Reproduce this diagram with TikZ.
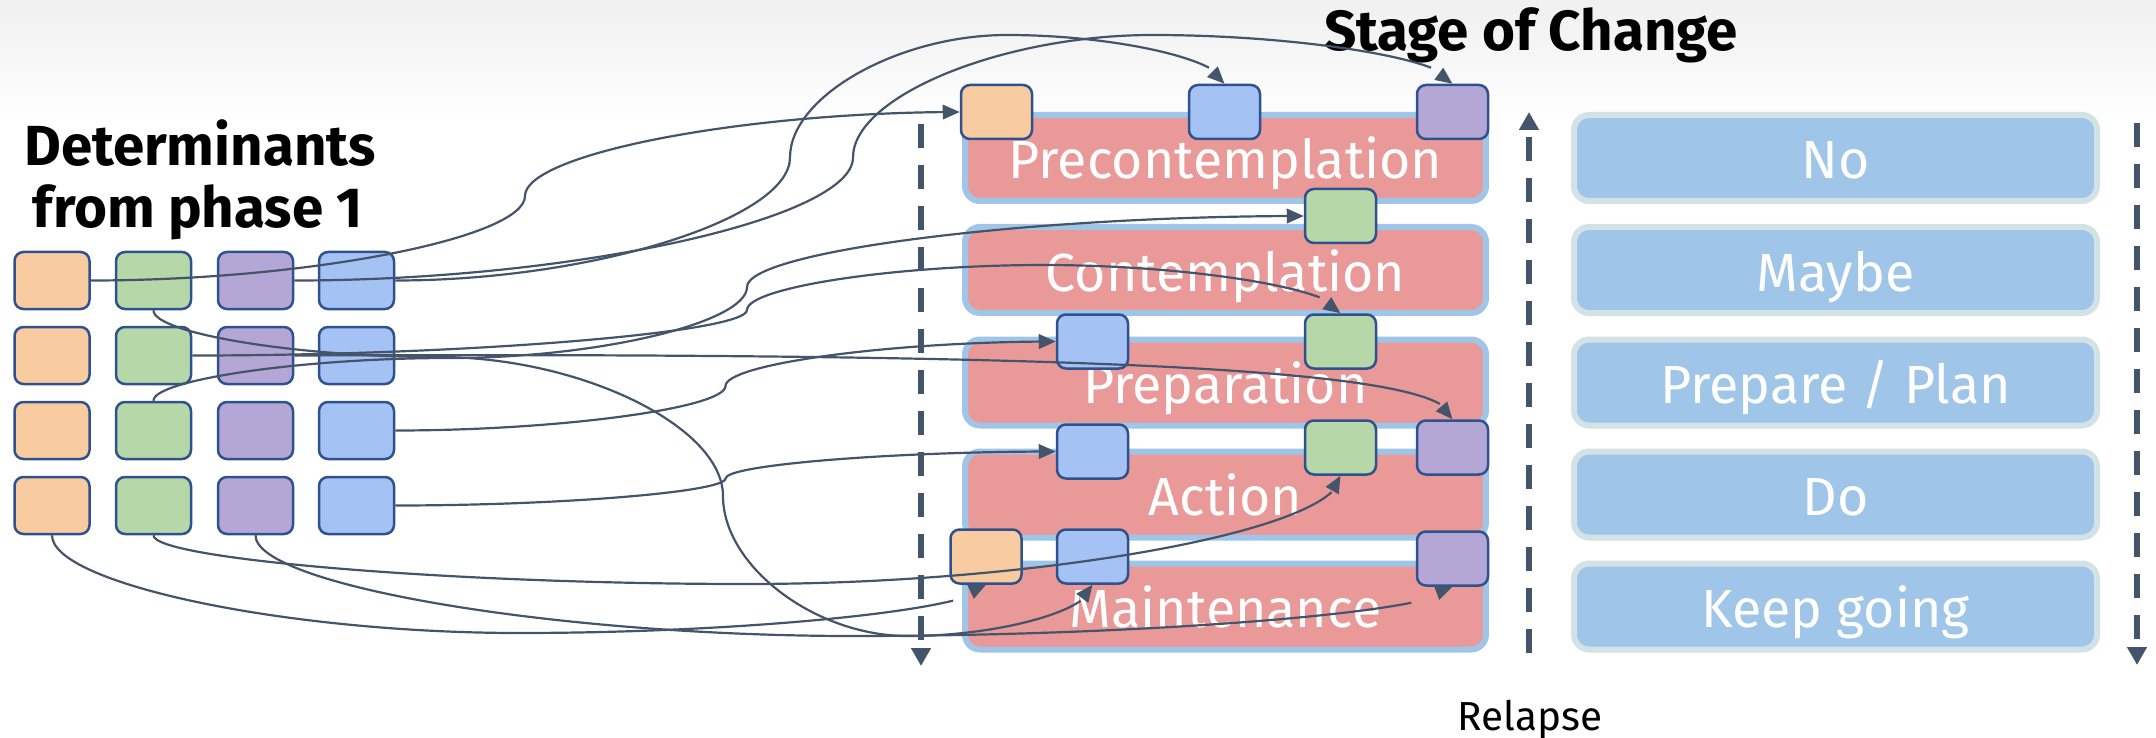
\documentclass[tikz,border=0pt]{standalone}
\usepackage{fontspec}
\setmainfont{Fira Sans}
\usetikzlibrary{arrows.meta,bending}

\definecolor{boxline}{HTML}{2F528F}
\definecolor{orangef}{HTML}{F8CBA0}
\definecolor{greenf}{HTML}{B6D7A8}
\definecolor{purplef}{HTML}{B4A7D6}
\definecolor{bluef}{HTML}{A4C2F4}
\definecolor{stagefill}{HTML}{EA9999}
\definecolor{stageedge}{HTML}{9FC5E8}
\definecolor{answerfill}{HTML}{9FC5E8}
\definecolor{answeredge}{HTML}{D3E2E6}
\definecolor{connc}{HTML}{44546A}

\newcommand\stagefont{\fontsize{53.7pt}{60pt}\selectfont}
\newcommand\headfont{\fontsize{56.5pt}{62pt}\selectfont\bfseries}
\newcommand\notefont{\fontsize{40.5pt}{46pt}\selectfont}

\tikzset{
  det/.style={draw=boxline, line width=2.5pt, rounded corners=9pt,
    minimum width=75pt, minimum height=57pt, inner sep=0pt},
  tgt/.style={det, minimum width=71pt, minimum height=54pt},
  stagebox/.style={draw=stageedge, fill=stagefill, line width=6pt,
    rounded corners=15pt, minimum width=521pt, minimum height=86pt,
    inner sep=0pt, text=white, font=\stagefont,
    text height=52pt, text depth=10pt},
  answerbox/.style={stagebox, draw=answeredge, fill=answerfill,
    minimum width=523pt},
  conn/.style={draw=connc, line width=2.2pt,
    -{Triangle[length=17pt,width=14.5pt]}},
  flow/.style={draw=connc, line width=5.5pt, dash pattern=on 24pt off 17pt,
    -{Triangle[length=18pt,width=19pt]}},
}

\begin{document}
\begin{tikzpicture}[x=1pt,y=-1pt]
\useasboundingbox (0,0) rectangle (2156,738);

% faint backdrop along the top edge
\shade[top color=black!6, bottom color=white] (0,0) rectangle (2156,125);

% headings
\node[font=\headfont, anchor=base, inner sep=0pt] (dethead) at (200,166) {Determinants};
\node[font=\headfont, anchor=base, inner sep=0pt] (dethead2) at (198,228) {from phase 1};
\node[font=\headfont, anchor=base, inner sep=0pt] (stagehead) at (1531,51) {Stage of Change};
\node[font=\notefont, anchor=base, inner sep=0pt] (relapse) at (1530,730) {Relapse};

% stages of change
\node[stagebox] (pre)  at (1225.5,158)   {Precontemplation};
\node[stagebox] (con)  at (1225.5,270)   {Contemplation};
\node[stagebox] (prep) at (1225.5,382.5) {Preparation};
\node[stagebox] (act)  at (1225.5,494.5) {Action};
\node[stagebox] (main) at (1225.5,606.5) {Maintenance};

% plain-language answers
\node[answerbox] (ano)   at (1835.5,158)   {No};
\node[answerbox] (amay)  at (1835.5,270)   {Maybe};
\node[answerbox] (aplan) at (1835.5,382.5) {Prepare / Plan};
\node[answerbox] (ado)   at (1835.5,494.5) {Do};
\node[answerbox] (akeep) at (1835.5,606.5) {Keep going};

% determinant grid
\foreach \c/\col/\x in {or/orangef/52, gr/greenf/153.5, pu/purplef/255.5, bl/bluef/356.5}{
  \foreach \r/\y in {1/280.5, 2/355.5, 3/430.5, 4/505.5}{
    \node[det, fill=\col] (\c\r) at (\x,\y) {};
  }
}

% determinants placed on the stages
\node[tgt, fill=orangef] (tO1) at (996.5,112)  {};
\node[tgt, fill=bluef]   (tB1) at (1224.5,112) {};
\node[tgt, fill=purplef] (tP1) at (1452.5,112) {};
\node[tgt, fill=greenf]  (tG1) at (1340.5,216) {};
\node[tgt, fill=greenf]  (tG2) at (1340.5,341.5) {};
\node[tgt, fill=bluef]   (tB2) at (1092.5,341.5) {};
\node[tgt, fill=bluef]   (tB3) at (1092.5,451.5) {};
\node[tgt, fill=greenf]  (tG3) at (1340.5,447.5) {};
\node[tgt, fill=purplef] (tP2) at (1452.5,447.5) {};
\node[tgt, fill=orangef] (tO2) at (986,556.5)   {};
\node[tgt, fill=bluef]   (tB4) at (1092.5,556.5) {};
\node[tgt, fill=purplef] (tP3) at (1452.5,558.5) {};

% progress / relapse arrows
\coordinate (fwdtop) at (921,124);
\coordinate (fwdend) at (921,666);
\coordinate (relbot) at (1529,653);
\coordinate (reltop) at (1529,112);
\coordinate (rtop) at (2137,123);
\coordinate (rend) at (2137,665);
\draw[flow] (fwdtop) -- (fwdend);
\draw[flow] (relbot) -- (reltop);
\draw[flow] (rtop) -- (rend);

% connectors
\draw[conn] (or1.east) .. controls (307,280.5) and (525,238) .. (525,196)
  .. controls (525,154) and (743,112) .. (tO1.west);
\draw[conn] (bl1.east) .. controls (592,280.5) and (790,218.75) .. (790,157.5)
  .. controls (790,96.25) and (898.5,35) .. (1007,35)
  .. controls (1115.5,35) and (1224.5,60) .. (tB1.north);
\draw[conn] (pu1.east) .. controls (573,280.5) and (853,218.75) .. (853,157.5)
  .. controls (853,96.25) and (1002.75,35) .. (1152.5,35)
  .. controls (1302.25,35) and (1452.5,60) .. (tP1.north);
\draw[conn] (gr3.north) .. controls (153,380) and (301.5,358) .. (450,358)
  .. controls (598.5,358) and (747,322.5) .. (747,287)
  .. controls (747,251.5) and (1026,216) .. (tG1.west);
\draw[conn] (gr2.east) .. controls (469,355.5) and (747,332.5) .. (747,310)
  .. controls (747,287.5) and (895.25,265) .. (1043.5,265)
  .. controls (1191.75,265) and (1340.5,289.5) .. (tG2.north);
\draw[conn] (pu2.east) .. controls (1150,352) and (1452.5,372) .. (tP2.north);
\draw[conn] (bl3.east) .. controls (559.75,430.5) and (725.5,408) .. (725.5,386)
  .. controls (725.5,364) and (891.25,341.5) .. (tB2.west);
\draw[conn] (bl4.east) .. controls (559.75,505.5) and (725.5,492) .. (725.5,478.5)
  .. controls (725.5,465) and (891.25,451.5) .. (tB3.west);
\draw[conn] (gr4.south) .. controls (153,559) and (449.75,584) .. (746.5,584)
  .. controls (1043.25,584) and (1340.5,529.5) .. (tG3.south);
\draw[conn] (or4.south) .. controls (52,583.5) and (285.5,633) .. (519,633)
  .. controls (752.5,633) and (986,608.5) .. (tO2.south);
\draw[conn] (pu4.south) .. controls (255,585) and (554.25,636) .. (853.5,636)
  .. controls (1152.75,636) and (1452.5,611) .. (tP3.south);
\draw[conn] (gr1.south) .. controls (153,333) and (295.5,357) .. (438,357)
  .. controls (580.5,357) and (723,426.5) .. (723,496)
  .. controls (723,566) and (815,636) .. (907.5,636)
  .. controls (1000,636) and (1092.5,610) .. (tB4.south);
\end{tikzpicture}
\end{document}
